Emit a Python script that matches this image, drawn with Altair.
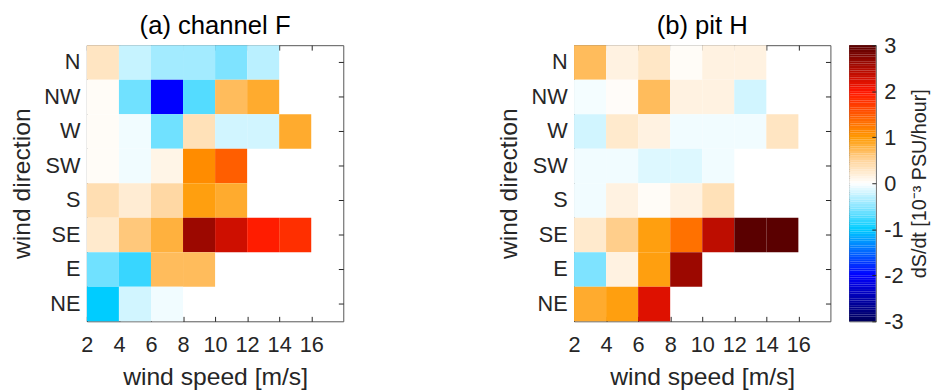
import altair as alt
import pandas as pd

directions = ["N", "NW", "W", "SW", "S", "SE", "E", "NE"]
speed_starts = [2, 4, 6, 8, 10, 12, 14]
speed_ticks = [2, 4, 6, 8, 10, 12, 14, 16]

# dS/dt values [10^-3 PSU/hour], per wind direction, for bins 2-4, 4-6, ...
channel_F = {
    "N":  [0.3, -0.25, -0.4, -0.4, -0.55, -0.3],
    "NW": [0.04, -0.6, -2.0, -0.7, 0.7, 0.85],
    "W":  [0.04, -0.06, -0.6, 0.35, -0.2, -0.2, 0.85],
    "SW": [0.04, -0.06, 0.12, 1.1, 1.45],
    "S":  [0.38, 0.22, 0.45, 0.95, 0.85],
    "SE": [0.25, 0.6, 0.8, 2.6, 2.3, 1.95, 1.8],
    "E":  [-0.6, -0.8, 0.7, 0.7],
    "NE": [-1.0, -0.2, -0.06],
}
pit_H = {
    "N":  [0.7, 0.15, 0.28, 0.04, 0.15, 0.15],
    "NW": [-0.05, 0.03, 0.7, 0.15, 0.15, -0.2],
    "W":  [-0.2, 0.25, 0.15, -0.06, -0.06, -0.06, 0.3],
    "SW": [-0.06, -0.06, -0.15, -0.15, -0.06],
    "S":  [-0.06, 0.15, 0.04, 0.15, 0.35],
    "SE": [0.25, 0.55, 0.95, 1.3, 2.4, 3.0, 3.0],
    "E":  [-0.55, 0.15, 0.95, 2.6],
    "NE": [0.85, 0.95, 2.2],
}

cbar_stops = [-3, -2, -1, -0.5, 0, 0.5, 1, 2, 3]
cbar_colors = ["#00005a", "#0000ff", "#00ccff", "#8ce6ff", "#ffffff",
               "#ffd49a", "#ff9900", "#ff1500", "#5a0000"]
cbar_ticks = [-3, -2, -1, 0, 1, 2, 3]


def frame(d):
    rows = []
    for dname, vals in d.items():
        for i, v in enumerate(vals):
            rows.append({"dir": dname, "x0": speed_starts[i],
                         "x1": speed_starts[i] + 2, "val": v})
    return pd.DataFrame(rows)


cscale = alt.Scale(domain=cbar_stops, range=cbar_colors, clamp=True,
                   interpolate="rgb")
FONT = "Liberation Sans"
TICK = 5


def xscale():
    return alt.Scale(domain=[2, 18], nice=False, zero=False)


def yscale():
    return alt.Scale(domain=directions, paddingInner=0, paddingOuter=0)


def panel(d, title):
    df = frame(d)
    cells = alt.Chart(df).mark_rect().encode(
        x=alt.X("x0:Q", scale=xscale(),
                axis=alt.Axis(values=speed_ticks, title="wind speed [m/s]",
                              labelPadding=14, titlePadding=9,
                              labelFlush=False, ticks=True, tickSize=TICK,
                              offset=-TICK, tickColor="#262626")),
        x2="x1:Q",
        y=alt.Y("dir:N", sort=directions, scale=yscale(),
                axis=alt.Axis(title="wind direction", labelPadding=7,
                              titlePadding=10)),
        color=alt.Color("val:Q", scale=cscale, legend=None),
    )
    frame_ticks = alt.Chart(df).mark_rect(opacity=0).encode(
        x=alt.X("x0:Q", scale=xscale(),
                axis=alt.Axis(orient="top", values=speed_ticks, labels=False,
                              title=None, ticks=True, tickSize=TICK,
                              offset=-TICK, tickColor="#262626")),
        x2="x1:Q",
        y=alt.Y("dir:N", sort=directions, scale=yscale(),
                axis=alt.Axis(orient="right", labels=False, title=None,
                              ticks=True, tickSize=TICK, offset=-TICK,
                              tickColor="#262626")),
    )
    return alt.layer(cells, frame_ticks).resolve_axis(
        x="independent", y="independent"
    ).properties(
        width=260, height=280,
        title=alt.TitleParams(title, fontSize=26, font=FONT,
                              fontWeight="normal", color="#000000", offset=6),
    )


n = 120
lo = [cbar_stops[0] + i * 6.0 / n for i in range(n)]
cb_df = pd.DataFrame({"lo": lo, "hi": [v + 6.0 / n + 0.001 for v in lo],
                      "mid": [v + 3.0 / n for v in lo]})

cbar = alt.Chart(cb_df).mark_rect().encode(
    x=alt.value(0),
    x2=alt.value(27),
    y=alt.Y("lo:Q", scale=alt.Scale(domain=[-3, 3], nice=False, zero=False),
            axis=alt.Axis(orient="right", values=cbar_ticks,
                          labelExpr="'' + datum.value",
                          title="dS/dt   [10⁻³ PSU/hour]", titleAngle=270,
                          titleBaseline="top",
                          titleFontSize=20, labelPadding=8, titlePadding=7,
                          ticks=True, tickSize=4, offset=-4,
                          tickColor="#262626", zindex=1)),
    y2="hi:Q",
    color=alt.Color("mid:Q", scale=cscale, legend=None),
).properties(width=27, height=280)

a = panel(channel_F, "(a) channel F")
b = panel(pit_H, "(b) pit H")

chart = alt.hconcat(
    a, alt.hconcat(b, cbar, spacing=17), spacing=153
).properties(
    padding={"left": 0, "top": 2, "right": 0, "bottom": 0}
).configure_axis(
    labelFont=FONT, titleFont=FONT, labelFontSize=22, titleFontSize=25,
    titleFontWeight="normal", labelColor="#262626", titleColor="#262626",
    domain=False, ticks=False, grid=False,
).configure_view(
    stroke="#555555", strokeWidth=1,
)

chart.save("out.html", embed_options={"renderer": "svg", "actions": False})
